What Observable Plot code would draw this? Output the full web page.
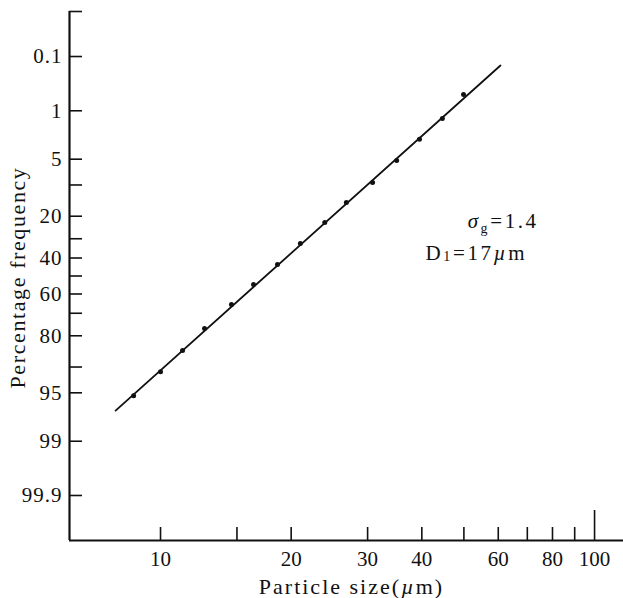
<!DOCTYPE html>
<html><head><meta charset="utf-8">
<script src="https://cdn.jsdelivr.net/npm/d3@7"></script>
<script src="https://cdn.jsdelivr.net/npm/@observablehq/plot@0.6"></script>
<style>body{margin:0;background:#fff}</style>
</head><body><div id="chart"></div>
<script>
// ---- data ----
const sizes = [8.67, 10.0, 11.24, 12.63, 14.57, 16.38, 18.6, 21.0, 23.9, 26.8, 30.8, 35.0, 39.5, 44.6, 49.9];
const freqs = [95.4, 91.1, 85.3, 77.0, 65.6, 54.8, 43.6, 32.4, 22.6, 15.0, 9.4, 5.2, 2.7, 1.33, 0.53];
const fitSizes = [7.88, 60.7];
const fitFreqs = [97.1, 0.152];
const yTickValues = [0.1, 1, 5, 10, 20, 30, 40, 50, 60, 70, 80, 90, 95, 99, 99.9];
const yLabelValues = [0.1, 1, 5, 20, 40, 60, 80, 95, 99, 99.9];
const yLabelTexts = ["0.1", "1", "5", "20", "40", "60", "80", "95", "99", "99.9"];
const xTickValues = [10, 15, 20, 30, 40, 50, 60, 70, 80, 90];
const xMajorTicks = [100];
const xLabelValues = [10, 20, 30, 40, 60, 80, 100];
const xLabelTexts = ["10", "20", "30", "40", "60", "80", "100"];
const xDomain = [6.17, 116.6];
const zLimit = 3.724;
const annX = [51.0, 40.8];
const annP = [22.2, 37.6];
const annText = ["σg=1.4", "D1=17µm"];
const xTitle = "Particle size(µm)";
const yTitle = "Percentage frequency";

// inverse normal CDF (probability-paper scale)
function probit(p){
  const a=[-3.969683028665376e+01,2.209460984245205e+02,-2.759285104469687e+02,1.383577518672690e+02,-3.066479806614716e+01,2.506628277459239e+00];
  const b=[-5.447609879822406e+01,1.615858368580409e+02,-1.556989798598866e+02,6.680131188771972e+01,-1.328068155288572e+01];
  const c=[-7.784894002430293e-03,-3.223964580411365e-01,-2.400758277161838e+00,-2.549732539343734e+00,4.374664141464968e+00,2.938163982698783e+00];
  const d=[7.784695709041462e-03,3.224671290700398e-01,2.445134137142996e+00,3.754408661907416e+00];
  const pl=0.02425, ph=1-pl; let q, r;
  if (p < pl){ q=Math.sqrt(-2*Math.log(p)); return (((((c[0]*q+c[1])*q+c[2])*q+c[3])*q+c[4])*q+c[5])/((((d[0]*q+d[1])*q+d[2])*q+d[3])*q+1); }
  if (p <= ph){ q=p-0.5; r=q*q; return (((((a[0]*r+a[1])*r+a[2])*r+a[3])*r+a[4])*r+a[5])*q/(((((b[0]*r+b[1])*r+b[2])*r+b[3])*r+b[4])*r+1); }
  q=Math.sqrt(-2*Math.log(1-p)); return -(((((c[0]*q+c[1])*q+c[2])*q+c[3])*q+c[4])*q+c[5])/((((d[0]*q+d[1])*q+d[2])*q+d[3])*q+1);
}

const W=623, H=598, mT=11, mL=69, mR=0, mB=58;
const frameW = W-mL-mR, frameH = H-mT-mB;
const ink = "#111";

const pts = sizes.map((s,i)=>({s, z: probit(freqs[i]/100)}));
const fit = fitSizes.map((s,i)=>({s, z: probit(fitFreqs[i]/100)}));
const yTickZ = [-zLimit, ...yTickValues.map(p=>probit(p/100))];
const yLabelZ = yLabelValues.map(p=>probit(p/100));
const yLabels = yLabelTexts.map((t,i)=>({t, z: yLabelZ[i]}));
const xLabels = xLabelTexts.map((t,i)=>({t, s: xLabelValues[i]}));
const ann = annText.map((t,i)=>({t, s: annX[i], z: probit(annP[i]/100)}));

const chart = Plot.plot({
  width: W, height: H, marginTop: mT, marginLeft: mL, marginRight: mR, marginBottom: mB,
  style: {fontFamily: "'Liberation Serif', 'Times New Roman', serif", fontSize: "21px", background: "#fff", color: ink},
  x: {type: "log", domain: xDomain, axis: null},
  y: {type: "linear", domain: [-zLimit, zLimit], reverse: true, axis: null},
  marks: [
    Plot.tickY(yTickZ, {y: d=>d, insetRight: frameW-13, stroke: ink, strokeWidth: 1.6}),
    Plot.tickX(xTickValues, {x: d=>d, insetTop: frameH-13, stroke: ink, strokeWidth: 1.6}),
    Plot.tickX(xMajorTicks, {x: d=>d, insetTop: frameH-30, stroke: ink, strokeWidth: 1.6}),
    Plot.text(yLabels, {y: "z", text: "t", frameAnchor: "left", textAnchor: "end", lineAnchor: "middle", dx: -7, fontSize: 21, fill: ink, className: "ylab"}),
    Plot.text(xLabels, {x: "s", text: "t", frameAnchor: "bottom", textAnchor: "middle", lineAnchor: "top", dy: 11, fontSize: 21, fill: ink, className: "xlab"}),
    Plot.ruleX([xDomain[0]], {stroke: ink, strokeWidth: 2.2}),
    Plot.ruleY([zLimit], {stroke: ink, strokeWidth: 2.2}),
    Plot.line(fit, {x: "s", y: "z", stroke: ink, strokeWidth: 1.8}),
    Plot.dot(pts, {x: "s", y: "z", r: 2.5, fill: ink}),
    Plot.text([yTitle], {frameAnchor: "left", rotate: -90, textAnchor: "middle", dx: -52, dy: 1.5, fontSize: 22, fill: ink, lineAnchor: "middle", className: "ytitle"}),
    Plot.text([xTitle], {frameAnchor: "bottom", textAnchor: "middle", dx: 5, dy: 46, fontSize: 22, fill: ink, lineAnchor: "middle", className: "xtitle"}),
    Plot.text(ann, {x: "s", y: "z", text: "t", textAnchor: "start", fontSize: 21, fill: ink, lineAnchor: "middle", className: "ann"})
  ]
});
document.getElementById("chart").appendChild(chart);

// typographic touches: letter spacing, subscripts, italic µ
const svg = d3.select(chart);
svg.selectAll(".ylab text").style("letter-spacing", "1px");
svg.selectAll(".ytitle text").style("letter-spacing", "1.6px");
svg.selectAll(".xtitle text").style("letter-spacing", "2px").each(function(){
  const el = d3.select(this); const txt = el.text();
  const k = txt.indexOf("µ");
  el.text("");
  el.append("tspan").text(txt.slice(0,k));
  el.append("tspan").style("font-style","italic").text("µ");
  el.append("tspan").text(txt.slice(k+1));
});
svg.selectAll(".ann text").style("letter-spacing", "2.6px").each(function(){
  const el = d3.select(this); const txt = el.text();
  el.text("");
  if (txt.startsWith("σ")) {
    el.append("tspan").style("font-style","italic").text("σ");
    el.append("tspan").attr("font-size", 14).attr("dy", 5).text("g");
    el.append("tspan").attr("dy", -5).text(txt.slice(2));
  } else {
    const k = txt.indexOf("µ");
    el.append("tspan").text("D");
    el.append("tspan").attr("font-size", 14).attr("dy", 1).text("1");
    el.append("tspan").attr("dy", -1).text(txt.slice(2, k));
    el.append("tspan").style("font-style","italic").text("µ");
    el.append("tspan").text(txt.slice(k+1));
  }
});
</script>
</body></html>
